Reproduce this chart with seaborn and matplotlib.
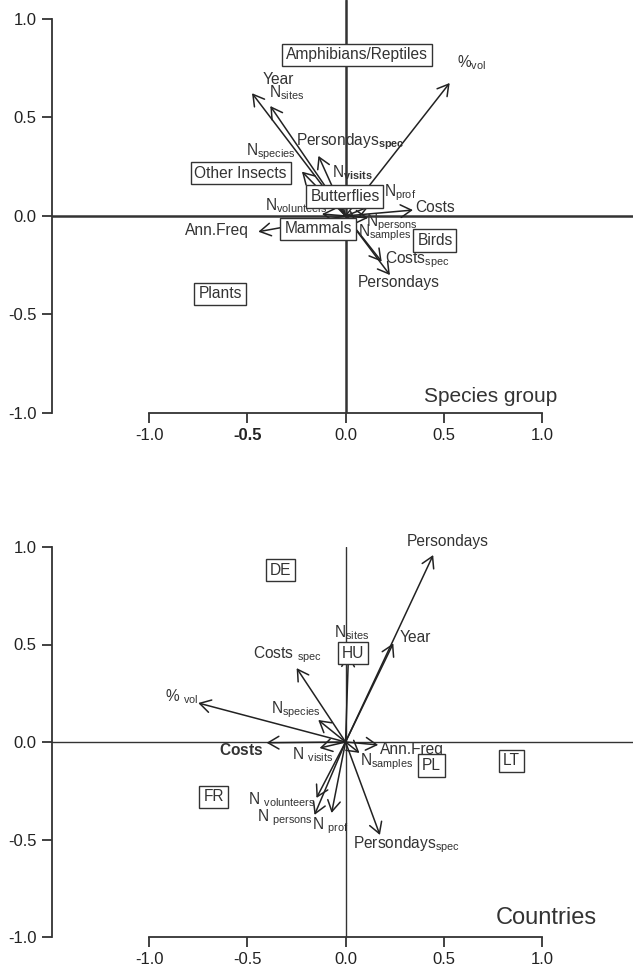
import numpy as np
import pandas as pd
import seaborn as sns
import matplotlib.pyplot as plt

# arrow tips (variable loadings) - species group panel
sp_vars = ["%vol", "Year", "N_sites", "Persondays_spec", "N_species", "N_visits", "N_prof",
           "Costs", "N_volunteers", "Ann.Freq", "N_persons", "N_samples", "Costs_spec", "Persondays"]
sp_x = [0.53, -0.476, -0.383, -0.138, -0.222, -0.04, 0.115, 0.343, -0.12, -0.444, 0.115, 0.06, 0.184, 0.226]
sp_y = [0.675, 0.623, 0.558, 0.305, 0.225, 0.16, 0.045, 0.03, 0.01, -0.08, -0.01, -0.04, -0.232, -0.30]
sp_lab = [r"%$_{\mathrm{vol}}$", "Year", r"N$_{\mathrm{sites}}$", r"Persondays$_{\mathbf{spec}}$",
          r"N$_{\mathrm{species}}$", r"N$_{\mathbf{visits}}$", r"N$_{\mathrm{prof}}$", "Costs",
          r"N$_{\mathrm{volunteers}}$", "Ann.Freq", r"N$_{\mathrm{persons}}$", r"N$_{\mathrm{samples}}$",
          r"Costs$_{\mathrm{spec}}$", "Persondays"]
sp_lab_x = [0.64, -0.34, -0.30, 0.023, -0.379, 0.033, 0.277, 0.455, -0.252, -0.654, 0.237, 0.201, 0.364, 0.272]
sp_lab_y = [0.78, 0.69, 0.624, 0.377, 0.325, 0.218, 0.117, 0.041, 0.051, -0.076, -0.036, -0.086, -0.223, -0.34]

groups = ["Amphibians/Reptiles", "Other Insects", "Butterflies", "Mammals", "Birds", "Plants"]
groups_x = [0.057, -0.534, -0.003, -0.14, 0.455, -0.639]
groups_y = [0.817, 0.218, 0.098, -0.066, -0.124, -0.396]

# countries panel
co_x = [0.446, 0.243, 0.015, -0.249, -0.75, -0.139, -0.402, -0.132, 0.166, 0.071, -0.148, -0.158, -0.071, 0.175]
co_y = [0.959, 0.506, 0.45, 0.379, 0.20, 0.113, -0.004, -0.031, -0.015, -0.056, -0.287, -0.374, -0.364, -0.477]
co_lab = ["Persondays", "Year", r"N$_{\mathrm{sites}}$", r"Costs $_{\mathrm{spec}}$", r"% $_{\mathrm{vol}}$",
          r"N$_{\mathrm{species}}$", r"$\mathbf{Costs}$", r"N $_{\mathrm{visits}}$", "Ann.Freq",
          r"N$_{\mathrm{samples}}$", r"N $_{\mathrm{volunteers}}$", r"N $_{\mathrm{persons}}$",
          r"N $_{\mathrm{prof}}$", r"Persondays$_{\mathrm{spec}}$"]
co_lab_x = [0.519, 0.356, 0.031, -0.295, -0.835, -0.254, -0.529, -0.168, 0.336, 0.209, -0.326, -0.31, -0.076, 0.31]
co_lab_y = [1.027, 0.538, 0.559, 0.446, 0.231, 0.164, -0.041, -0.067, -0.036, -0.103, -0.297, -0.39, -0.431, -0.528]

countries = ["DE", "HU", "PL", "LT", "FR"]
countries_x = [-0.329, 0.036, 0.438, 0.845, -0.672]
countries_y = [0.882, 0.456, -0.121, -0.097, -0.282]

ticks = [-1.0, -0.5, 0.0, 0.5, 1.0]

sns.set_theme(style="ticks")
plt.rcParams["font.family"] = ["Liberation Sans", "DejaVu Sans"]
plt.rcParams["mathtext.fontset"] = "custom"
plt.rcParams["mathtext.rm"] = "Liberation Sans"
plt.rcParams["mathtext.bf"] = "Liberation Sans:bold"
plt.rcParams["mathtext.it"] = "Liberation Sans:italic"

ink = "#333333"
fig = plt.figure(figsize=(6.33, 9.74), dpi=100)
ax1 = fig.add_axes([52 / 633, 1 - 413 / 974, 1 - 52 / 633, 413 / 974])
ax2 = fig.add_axes([52 / 633, 37 / 974, 1 - 52 / 633, 390 / 974])


def biplot(ax, vx, vy, labs, lx, ly, names, gx, gy, ylim, title, tsize, tx, ty, origin_lw):
    ax.set_xlim(-1.494, 1.463)
    ax.set_ylim(*ylim)
    ax.axhline(0, color=ink, lw=origin_lw, zorder=1)
    ax.axvline(0, color=ink, lw=origin_lw, zorder=1)
    for x, y in zip(vx, vy):
        ax.annotate("", xy=(x, y), xytext=(0, 0), annotation_clip=False,
                    arrowprops=dict(arrowstyle="->,head_length=0.65,head_width=0.38",
                                    color="#222222", lw=1.1, shrinkA=0, shrinkB=0),
                    zorder=2)
    for t, x, y in zip(labs, lx, ly):
        ax.text(x, y, t, ha="center", va="center", fontsize=11.2, color=ink, zorder=4)
    for t, x, y in zip(names, gx, gy):
        ax.text(x, y, t, ha="center", va="center", fontsize=11.2, color=ink, zorder=5,
                bbox=dict(boxstyle="square,pad=0.25", fc="white", ec=ink, lw=1.0))
    ax.text(tx, ty, title, ha="right", va="center", fontsize=tsize, color=ink)
    ax.set_xticks(ticks)
    ax.set_yticks(ticks)
    ax.set_xticklabels(["%.1f" % t for t in ticks])
    ax.set_yticklabels(["%.1f" % t for t in ticks])
    ax.tick_params(length=7, width=1.3, color=ink, labelcolor="#222222", labelsize=12, pad=4)
    sns.despine(ax=ax, trim=True)
    for s in ["left", "bottom"]:
        ax.spines[s].set_color(ink)
        ax.spines[s].set_linewidth(1.3)
    ax.set_facecolor("none")


biplot(ax1, sp_x, sp_y, sp_lab, sp_lab_x, sp_lab_y, groups, groups_x, groups_y,
       (-1.0, 1.096), "Species group", 15, 1.075, -0.915, 1.8)
biplot(ax2, co_x, co_y, co_lab, co_lab_x, co_lab_y, countries, countries_x, countries_y,
       (-1.0, 1.0), "Countries", 17, 1.28, -0.9, 1.0)
ax1.get_xticklabels()[1].set_fontweight("bold")

fig.savefig("out.png", dpi=100)
